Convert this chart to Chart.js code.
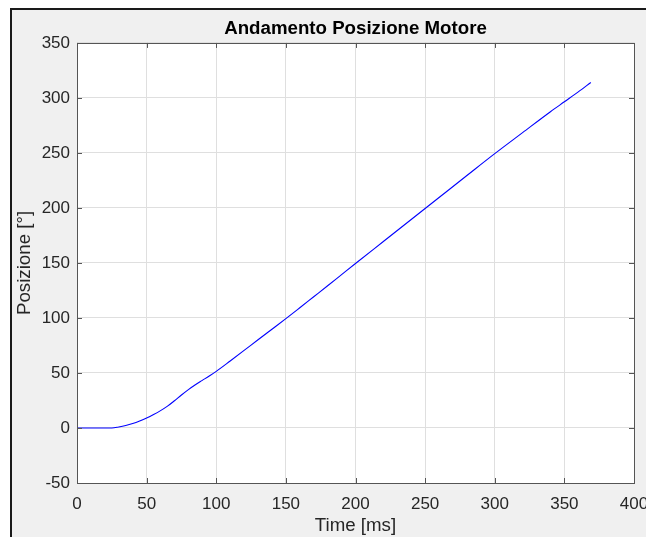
<!DOCTYPE html>
<html>
<head>
<meta charset="utf-8">
<script src="https://cdn.jsdelivr.net/npm/chart.js@4/dist/chart.umd.min.js"></script>
<style>
  html, body { margin: 0; padding: 0; background: #ffffff; }
  #wrap { width: 646px; height: 537px; }
  canvas { display: block; }
</style>
</head>
<body>
<div id="wrap"><canvas id="chart" width="646" height="537"></canvas></div>
<script>
// Motor position vs. time
const timeMs = [0, 10, 20, 25, 30, 35, 40, 45, 50, 55, 60, 65, 70, 75, 80, 85, 90, 95, 100,
  110, 120, 130, 140, 150, 160, 170, 180, 190, 200, 220, 240, 260, 280, 300, 320, 340, 350, 360, 369];
const positionDeg = [0, 0, 0, 0, 0.9, 2.2, 4, 6.3, 9, 12.2, 15.8, 19.9, 24.8, 30, 34.9, 39.3, 43.3, 47.3, 51.5,
  60.9, 70.5, 80.2, 89.8, 99.4, 109.3, 119.3, 129.3, 139.4, 149.5, 169.5, 189.5, 209.5, 229.5, 249.4, 268.5, 287.5, 296.5, 305.5, 314];

const xTicks = [0, 50, 100, 150, 200, 250, 300, 350, 400];
const yTicks = [-50, 0, 50, 100, 150, 200, 250, 300, 350];

const titleText = 'Andamento Posizione Motore';
const xLabel = 'Time [ms]';
const yLabel = 'Posizione [°]';

const FONT = '"Liberation Sans", Arial, Helvetica, sans-serif';
const AXIS_COLOR = '#555555';
const TEXT_COLOR = '#262626';

const points = timeMs.map((t, i) => ({ x: t, y: positionDeg[i] }));

// Figure background, frame, axes background
const figureBackground = {
  id: 'figureBackground',
  beforeDraw(chart) {
    const { ctx, width, height, chartArea } = chart;
    ctx.save();
    ctx.fillStyle = '#ffffff';
    ctx.fillRect(0, 0, width, height);
    ctx.fillStyle = '#f0f0f0';
    ctx.fillRect(12, 10, width - 12, height - 10);
    ctx.fillStyle = '#1a1a1a';
    ctx.fillRect(10, 8, 2, height - 8);
    ctx.fillRect(10, 8, width - 10, 2);
    ctx.fillStyle = '#ffffff';
    ctx.fillRect(chartArea.left, chartArea.top, chartArea.right - chartArea.left, chartArea.bottom - chartArea.top);
    ctx.restore();
  }
};

// Center the title over the axes rather than over the whole figure
const titleOverAxes = {
  id: 'titleOverAxes',
  afterLayout(chart) {
    const t = chart.titleBlock;
    if (t) {
      t.left = chart.chartArea.left;
      t.right = chart.chartArea.right;
      t.width = t.right - t.left;
    }
  }
};

// Box around the axes with inward tick marks on all four sides
const axesBox = {
  id: 'axesBox',
  afterDatasetsDraw(chart) {
    const { ctx, chartArea: a, scales } = chart;
    const len = 5;
    ctx.save();
    ctx.strokeStyle = AXIS_COLOR;
    ctx.lineWidth = 1;
    ctx.beginPath();
    xTicks.forEach(v => {
      const px = Math.round(scales.x.getPixelForValue(v)) + 0.5;
      ctx.moveTo(px, a.bottom); ctx.lineTo(px, a.bottom - len);
      ctx.moveTo(px, a.top); ctx.lineTo(px, a.top + len);
    });
    yTicks.forEach(v => {
      const py = Math.round(scales.y.getPixelForValue(v)) + 0.5;
      ctx.moveTo(a.left, py); ctx.lineTo(a.left + len, py);
      ctx.moveTo(a.right, py); ctx.lineTo(a.right - len, py);
    });
    ctx.stroke();
    ctx.strokeRect(Math.round(a.left) + 0.5, Math.round(a.top) + 0.5,
      Math.round(a.right - a.left), Math.round(a.bottom - a.top));
    ctx.restore();
  }
};

new Chart(document.getElementById('chart'), {
  type: 'line',
  data: {
    datasets: [{
      data: points,
      borderColor: '#0000ff',
      borderWidth: 1.1,
      pointRadius: 0,
      fill: false,
      cubicInterpolationMode: 'monotone'
    }]
  },
  options: {
    responsive: false,
    animation: false,
    devicePixelRatio: 1,
    layout: { padding: { left: 0, top: 0, right: 12, bottom: 0 } },
    plugins: {
      legend: { display: false },
      tooltip: { enabled: false },
      title: {
        display: true,
        text: titleText,
        color: '#000000',
        font: { family: FONT, size: 18.7, weight: 'bold', lineHeight: 1.2 },
        padding: { top: 17.5, bottom: 3 }
      }
    },
    scales: {
      x: {
        type: 'linear',
        min: 0,
        max: 400,
        afterBuildTicks(scale) { scale.ticks = xTicks.map(v => ({ value: v })); },
        afterFit(scale) { scale.height = 54; scale.paddingRight = 0; },
        ticks: {
          color: TEXT_COLOR,
          font: { family: FONT, size: 17 },
          padding: 11,
          maxRotation: 0
        },
        grid: { color: '#dfdfdf', lineWidth: 1, drawTicks: false },
        border: { display: false },
        title: {
          display: true,
          text: xLabel,
          color: TEXT_COLOR,
          font: { family: FONT, size: 18.7, lineHeight: 1.2 },
          padding: { top: 0, bottom: 0 }
        }
      },
      y: {
        type: 'linear',
        min: -50,
        max: 350,
        afterBuildTicks(scale) { scale.ticks = yTicks.map(v => ({ value: v })); },
        afterFit(scale) { scale.width = 77; },
        ticks: {
          color: TEXT_COLOR,
          font: { family: FONT, size: 17 },
          padding: 7
        },
        grid: { color: '#dfdfdf', lineWidth: 1, drawTicks: false },
        border: { display: false },
        title: {
          display: true,
          text: yLabel,
          color: TEXT_COLOR,
          font: { family: FONT, size: 18.7, lineHeight: 1.2 },
          padding: { top: 14, bottom: 0 }
        }
      }
    }
  },
  plugins: [figureBackground, titleOverAxes, axesBox]
});
</script>
</body>
</html>
